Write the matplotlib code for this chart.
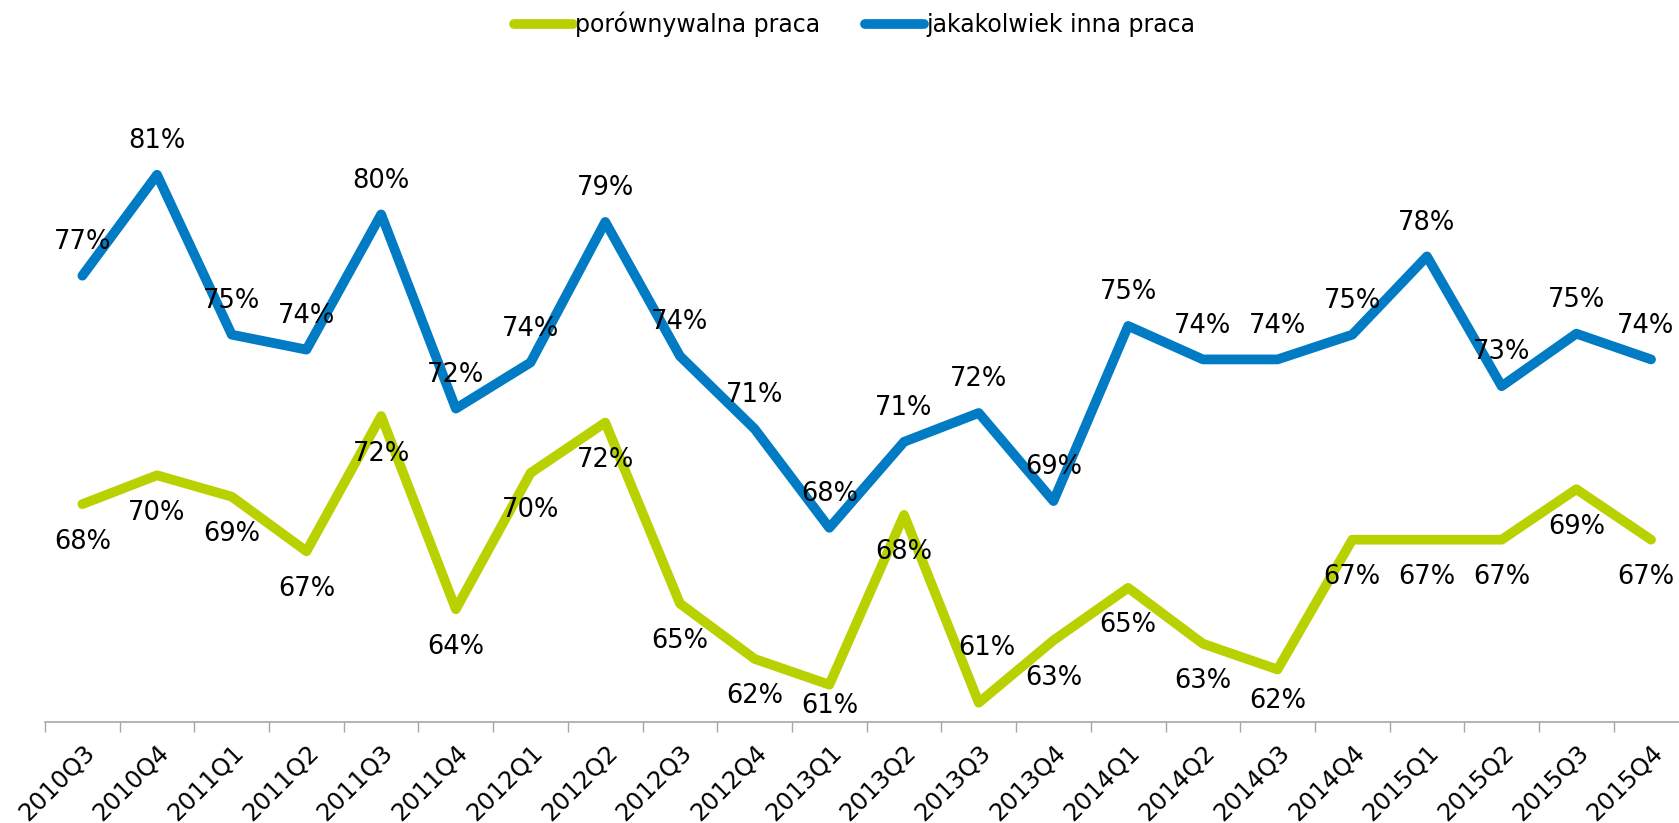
import matplotlib.pyplot as plt

quarters = ["2010Q3", "2010Q4", "2011Q1", "2011Q2", "2011Q3", "2011Q4",
            "2012Q1", "2012Q2", "2012Q3", "2012Q4", "2013Q1", "2013Q2",
            "2013Q3", "2013Q4", "2014Q1", "2014Q2", "2014Q3", "2014Q4",
            "2015Q1", "2015Q2", "2015Q3", "2015Q4"]

# udzial (%)
porownywalna = [68.46, 69.58, 68.75, 66.63, 71.88, 64.38, 69.67, 71.63, 64.6, 62.45, 61.45,
                68.04, 60.75, 63.17, 65.21, 63.04, 62.04, 67.08, 67.08, 67.08, 69.04, 67.08]
jakakolwiek = [77.33, 81.25, 75.04, 74.46, 79.71, 72.17, 73.96, 79.42, 74.21, 71.38, 67.54,
               70.88, 72.0, 68.58, 75.38, 74.08, 74.08, 75.04, 78.08, 73.04, 75.08, 74.08]

GREEN = "#B9D100"
BLUE = "#007BC4"
GREY = "#A6A6A6"

fig = plt.figure(figsize=(16.79, 8.23), dpi=100)
ax = fig.add_axes([0.0268, 0.1227, 0.9788, 0.7823])

x = list(range(len(quarters)))
line_kw = dict(lw=7, solid_capstyle="round", solid_joinstyle="round")
ax.plot(x, porownywalna, color=GREEN, label="porównywalna praca", **line_kw)
ax.plot(x, jakakolwiek, color=BLUE, label="jakakolwiek inna praca", **line_kw)

ax.set_xlim(-0.5, len(quarters) - 0.5)
ax.set_ylim(60, 85)

# etykiety danych (przesuniecia w pt)
green_off = {10: (0, -15), 12: (6, 39.5), 16: (0, -23), 21: (-4, -27)}
blue_off = {21: (-4, 24.3)}
for i, v in enumerate(porownywalna):
    ax.annotate(f"{v:.0f}%", (i, v), xytext=green_off.get(i, (0, -27)),
                textcoords="offset points", ha="center", va="center",
                fontsize=18.5, zorder=5)
for i, v in enumerate(jakakolwiek):
    ax.annotate(f"{v:.0f}%", (i, v), xytext=blue_off.get(i, (0, 24.3)),
                textcoords="offset points", ha="center", va="center",
                fontsize=18.5, zorder=5)

ax.set_xticks(x, quarters)
ax.set_xticks([i - 0.5 for i in range(len(quarters) + 1)], minor=True)
ax.tick_params(axis="x", which="major", length=0, pad=13.5, labelsize=17.5, labelrotation=45)
ax.tick_params(axis="x", which="minor", length=7, width=1, color=GREY, direction="out")
plt.setp(ax.get_xticklabels(), ha="right", va="top", rotation_mode="anchor")
ax.set_yticks([])
for s in ["left", "top", "right"]:
    ax.spines[s].set_visible(False)
ax.spines["bottom"].set_color(GREY)
ax.spines["bottom"].set_linewidth(1.2)

fig.legend(loc="center", bbox_to_anchor=(0.509, 0.970), ncol=2, frameon=False,
           fontsize=17, handlelength=2.5, handletextpad=0.1, columnspacing=1.9)

fig.savefig("out.png", dpi=100)
